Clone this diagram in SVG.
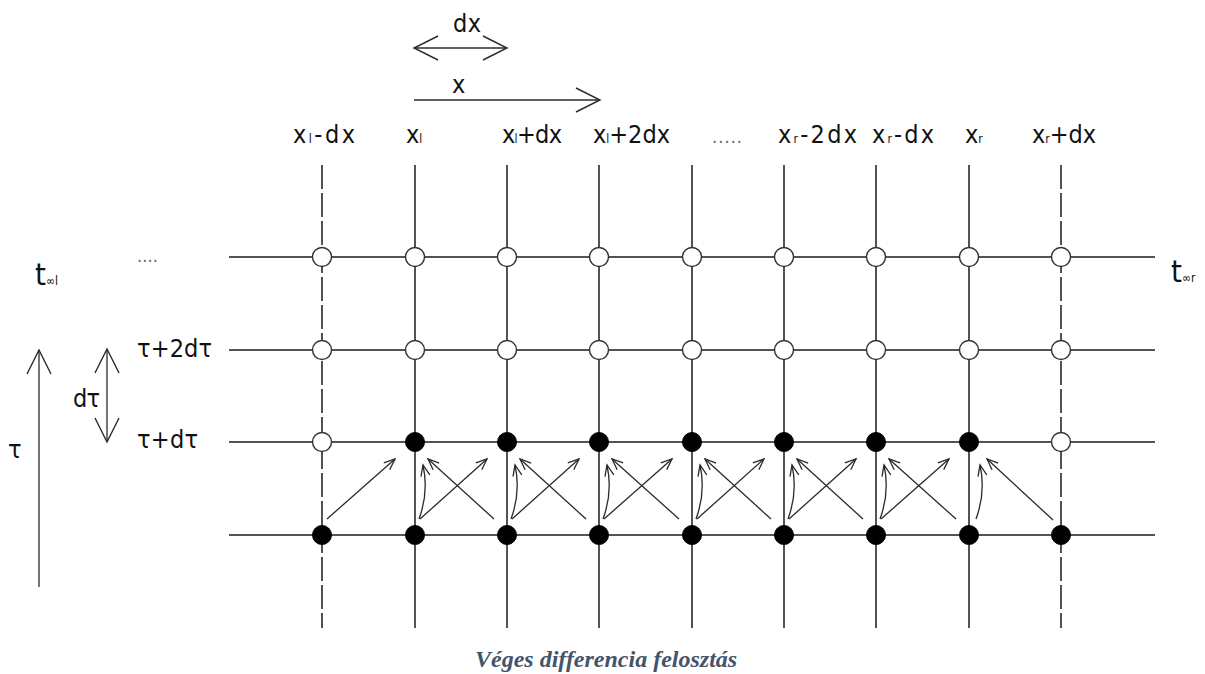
<svg xmlns="http://www.w3.org/2000/svg" width="1205" height="674" viewBox="0 0 1205 674">
<defs>
<style>
.g{stroke:#1a1a1a;stroke-width:1.5;fill:none}
.d{stroke-dasharray:24 4}
.o{fill:#fff;stroke:#333;stroke-width:1.4}
.f{fill:#000;stroke:#000;stroke-width:1}
.a{stroke:#2a2a2a;stroke-width:1.3;fill:none;marker-end:url(#ah)}
.b{stroke:#2a2a2a;stroke-width:1.3;fill:none}
.t{font-family:"DejaVu Sans Condensed","DejaVu Sans",sans-serif;font-size:25px;fill:#111}
.s{font-size:12px}
.dots{font-size:18px;fill:#666}
.big{font-size:31px}
.cap{font-family:"Liberation Serif",serif;font-size:24px;font-weight:bold;font-style:italic;fill:#44546A}
</style>
<marker id="ah" markerUnits="userSpaceOnUse" markerWidth="14" markerHeight="12" refX="11" refY="4.5" orient="auto" overflow="visible"><path d="M0,0 L11,4.5 L0,9" fill="none" stroke="#2a2a2a" stroke-width="1.3"/></marker>
<marker id="big" markerUnits="userSpaceOnUse" markerWidth="26" markerHeight="26" refX="24" refY="12" orient="auto-start-reverse" overflow="visible"><path d="M0,0 L24,12 L0,24" fill="none" stroke="#2a2a2a" stroke-width="1.4"/></marker>
</defs>
<rect width="1205" height="674" fill="#fff"/>
<g id="grid">
<line class="g" x1="229" y1="257" x2="1155" y2="257"/>
<line class="g" x1="229" y1="350" x2="1155" y2="350"/>
<line class="g" x1="229" y1="442" x2="1155" y2="442"/>
<line class="g" x1="229" y1="535" x2="1155" y2="535"/>
<line class="g d" x1="322" y1="165" x2="322" y2="628"/>
<line class="g" x1="415" y1="165" x2="415" y2="628"/>
<line class="g" x1="507" y1="165" x2="507" y2="628"/>
<line class="g" x1="599" y1="165" x2="599" y2="628"/>
<line class="g" x1="692" y1="165" x2="692" y2="628"/>
<line class="g" x1="784" y1="165" x2="784" y2="628"/>
<line class="g" x1="876" y1="165" x2="876" y2="628"/>
<line class="g" x1="969" y1="165" x2="969" y2="628"/>
<line class="g d" x1="1061" y1="165" x2="1061" y2="628"/>
</g>
<g id="nodes-open">
<circle class="o" cx="322" cy="257" r="9.5"/><circle class="o" cx="415" cy="257" r="9.5"/><circle class="o" cx="507" cy="257" r="9.5"/><circle class="o" cx="599" cy="257" r="9.5"/><circle class="o" cx="692" cy="257" r="9.5"/><circle class="o" cx="784" cy="257" r="9.5"/><circle class="o" cx="876" cy="257" r="9.5"/><circle class="o" cx="969" cy="257" r="9.5"/><circle class="o" cx="1061" cy="257" r="9.5"/>
<circle class="o" cx="322" cy="350" r="9.5"/><circle class="o" cx="415" cy="350" r="9.5"/><circle class="o" cx="507" cy="350" r="9.5"/><circle class="o" cx="599" cy="350" r="9.5"/><circle class="o" cx="692" cy="350" r="9.5"/><circle class="o" cx="784" cy="350" r="9.5"/><circle class="o" cx="876" cy="350" r="9.5"/><circle class="o" cx="969" cy="350" r="9.5"/><circle class="o" cx="1061" cy="350" r="9.5"/>
<circle class="o" cx="322" cy="442" r="9.5"/><circle class="o" cx="1061" cy="442" r="9.5"/>
</g>
<g id="nodes-filled">
<circle class="f" cx="415" cy="442" r="9.5"/><circle class="f" cx="507" cy="442" r="9.5"/><circle class="f" cx="599" cy="442" r="9.5"/><circle class="f" cx="692" cy="442" r="9.5"/><circle class="f" cx="784" cy="442" r="9.5"/><circle class="f" cx="876" cy="442" r="9.5"/><circle class="f" cx="969" cy="442" r="9.5"/>
<circle class="f" cx="322" cy="535" r="9.5"/><circle class="f" cx="415" cy="535" r="9.5"/><circle class="f" cx="507" cy="535" r="9.5"/><circle class="f" cx="599" cy="535" r="9.5"/><circle class="f" cx="692" cy="535" r="9.5"/><circle class="f" cx="784" cy="535" r="9.5"/><circle class="f" cx="876" cy="535" r="9.5"/><circle class="f" cx="969" cy="535" r="9.5"/><circle class="f" cx="1061" cy="535" r="9.5"/>
</g>
<g id="connectors">
<path class="a" d="M327,519 L395,459"/>
<path class="a" d="M419,519 Q429,492 423,465"/><path class="a" d="M420,519 L487,459"/><path class="a" d="M494,519 L428,459"/>
<path class="a" d="M511,519 Q521,492 515,465"/><path class="a" d="M512,519 L579,459"/><path class="a" d="M586,519 L520,459"/>
<path class="a" d="M603,519 Q613,492 607,465"/><path class="a" d="M604,519 L672,459"/><path class="a" d="M679,519 L612,459"/>
<path class="a" d="M696,519 Q706,492 700,465"/><path class="a" d="M697,519 L764,459"/><path class="a" d="M771,519 L705,459"/>
<path class="a" d="M788,519 Q798,492 792,465"/><path class="a" d="M789,519 L856,459"/><path class="a" d="M863,519 L797,459"/>
<path class="a" d="M880,519 Q890,492 884,465"/><path class="a" d="M881,519 L949,459"/><path class="a" d="M956,519 L889,459"/>
<path class="a" d="M976,519 Q986,492 980,465"/><path class="a" d="M1053,520 L987,459"/>
<path class="b" d="M414,48 L507,48" marker-start="url(#big)" marker-end="url(#big)"/>
<path class="b" d="M414,100 L600,100" marker-end="url(#big)"/>
<path class="b" d="M39,587 L39,350" marker-end="url(#big)"/>
<path class="b" d="M107,442 L107,349" marker-start="url(#big)" marker-end="url(#big)"/>
</g>
<g id="labels">
<text class="t" x="453" y="32" textLength="28">dx</text>
<text class="t" x="452" y="93">x</text>
<text class="t" x="293" y="143" textLength="62">x<tspan class="s">l</tspan>-dx</text>
<text class="t" x="406" y="143">x<tspan class="s">l</tspan></text>
<text class="t" x="502" y="143" textLength="60">x<tspan class="s">l</tspan>+dx</text>
<text class="t" x="593" y="143" textLength="77">x<tspan class="s">l</tspan>+2dx</text>
<text class="t dots" x="712" y="143" textLength="30">.....</text>
<text class="t" x="778" y="143" textLength="79">x<tspan class="s">r</tspan>-2dx</text>
<text class="t" x="872" y="143" textLength="62">x<tspan class="s">r</tspan>-dx</text>
<text class="t" x="965" y="143">x<tspan class="s">r</tspan></text>
<text class="t" x="1032" y="143" textLength="64">x<tspan class="s">r</tspan>+dx</text>
<text class="t dots" x="137" y="262" textLength="21">....</text>
<text class="t" x="137" y="357" textLength="75">τ+2dτ</text>
<text class="t" x="73" y="407" textLength="27">dτ</text>
<text class="t" x="137" y="448" textLength="61">τ+dτ</text>
<text class="t" x="8" y="458">τ</text>
<text class="t big" x="35" y="285">t<tspan class="s">∞l</tspan></text>
<text class="t big" x="1171" y="282">t<tspan class="s">∞r</tspan></text>
</g>
<text class="cap" x="475" y="667">Véges differencia felosztás</text>
</svg>
